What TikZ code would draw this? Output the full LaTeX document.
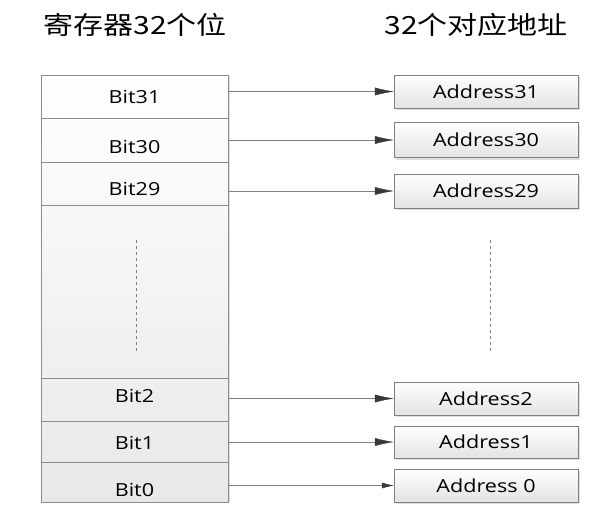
\documentclass[tikz,border=0pt]{standalone}
\usepackage{fontspec}
\setmainfont[FakeStretch=1.2]{Open Sans}
\newfontfamily\cjk[FakeStretch=1.2]{Noto Sans CJK SC}
\usetikzlibrary{shadows,arrows.meta}

\begin{document}
\begin{tikzpicture}[x=1pt,y=-1pt,
    stack/.style={draw=gray!90, top color=white, bottom color=black!9, minimum width=187pt, inner sep=0pt,
        drop shadow={shadow xshift=2pt, shadow yshift=-1pt, opacity=0.25}},
    cell/.style={draw=gray!90, minimum width=187pt, inner sep=0pt},
    every label/.style={font=\fontsize{18}{18}\selectfont, inner sep=0pt},
    addr/.style={draw=gray, top color=white, bottom color=black!11, minimum width=184pt, inner sep=0pt,
        font=\fontsize{18}{18}\selectfont, drop shadow={shadow xshift=2pt, shadow yshift=-2pt, opacity=0.25}},
    link/.style={draw=gray, -{Latex[length=19pt,width=8pt,color=black!78]}},
    title/.style={font=\cjk\fontsize{25}{25}\selectfont}]
\useasboundingbox (0,0) rectangle (589,509);
% titles
\node[title] (lt) at (135,25) {寄存器32个位};
\node[title] (rt) at (476,25) {32个对应地址};
% register
\node[stack, minimum height=427pt] (reg) at (134.5,288.5) {};
\node[cell, minimum height=43pt, label={center:Bit31}] (b31) at (134.5,96.5) {};
\node[cell, minimum height=44pt, label={[yshift=-7pt]center:Bit30}] (b30) at (134.5,140) {};
\node[cell, minimum height=43pt, label={[yshift=-5pt]center:Bit29}] (b29) at (134.5,183.5) {};
\node[cell, minimum height=173pt] (mid) at (134.5,291.5) {};
\node[cell, minimum height=43pt, label={[yshift=3.5pt]center:Bit2}] (b2) at (134.5,399.5) {};
\node[cell, minimum height=41pt, label={[yshift=-1.5pt]center:Bit1}] (b1) at (134.5,441.5) {};
\node[cell, minimum height=40pt, label={[yshift=-8pt]center:Bit0}] (b0) at (134.5,482) {};
% addresses
\node[addr, minimum height=33pt] (a31) at (486,91.5) {Address31};
\node[addr, minimum height=35pt] (a30) at (486,140) {Address30};
\node[addr, minimum height=34pt] (a29) at (486,191) {Address29};
\node[addr, minimum height=33pt] (a2) at (486,398.5) {Address2};
\node[addr, minimum height=32pt] (a1) at (486,442) {Address1};
\node[addr, minimum height=33pt] (a0) at (486,485.5) {Address 0};
% links
\foreach \n in {31,30,29,2,1}
  \draw[link] (a\n.west -| b\n.east) -- (a\n.west);
\draw[link, -{Latex[length=12pt,width=6pt,color=black!78]}] (a0.west -| b0.east) -- (a0.west);
% dots
\draw[dashed, gray] (136,240) -- (136,352);
\draw[dashed, gray] (490,240) -- (490,352);
\end{tikzpicture}
\end{document}
